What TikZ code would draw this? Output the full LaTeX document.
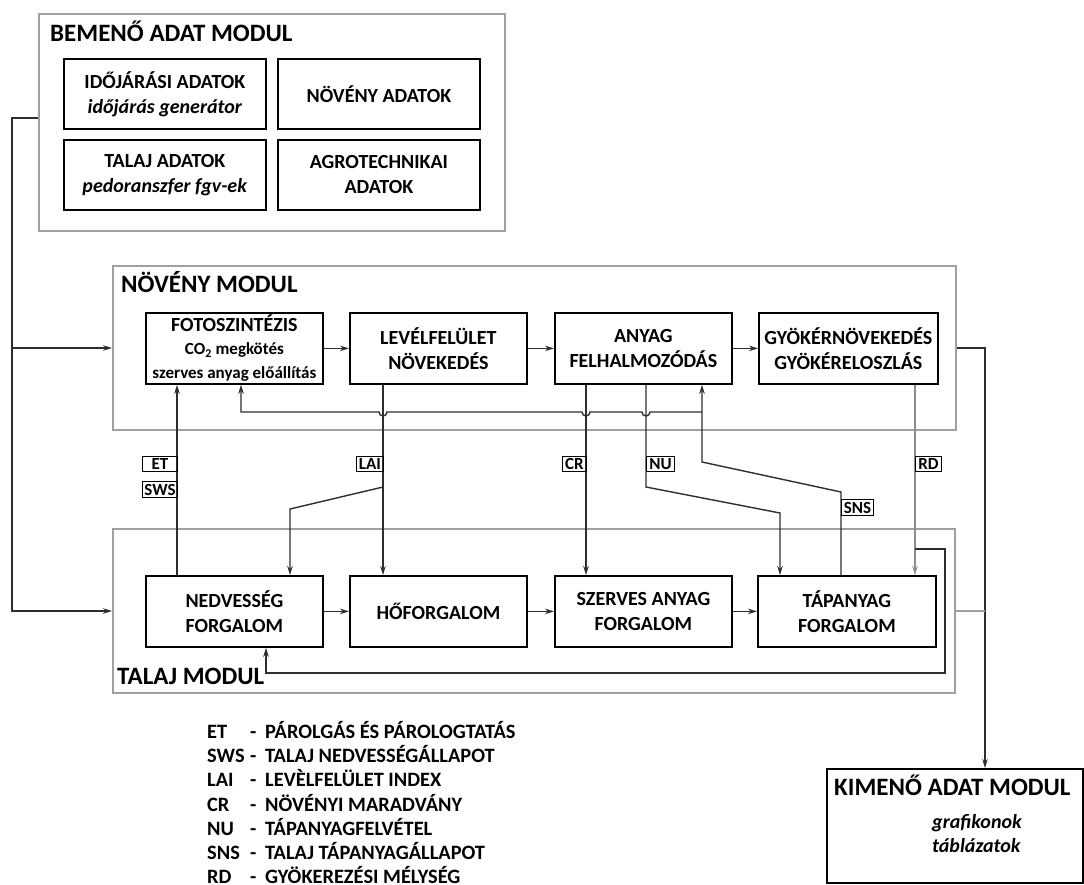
\documentclass[tikz,border=0pt]{standalone}
\usepackage{fontspec}
\setmainfont{Carlito}
\usetikzlibrary{arrows.meta,calc}
\definecolor{modgray}{HTML}{A0A0A0}
\definecolor{lnk}{HTML}{2E2E2E}
\definecolor{rdgray}{HTML}{8C8C8C}
\newcommand{\fT}{\fontsize{25pt}{30pt}\selectfont\bfseries}
\newcommand{\fA}{\fontsize{20pt}{25pt}\selectfont\bfseries}
\newcommand{\fG}{\fontsize{20.4pt}{25pt}\selectfont\bfseries}
\newcommand{\fB}{\fontsize{17pt}{19.5pt}\selectfont\bfseries}
\newcommand{\fL}{\fontsize{17pt}{18pt}\selectfont\bfseries}
\begin{document}
\begin{tikzpicture}[x=1pt,y=-1pt,
  modbox/.style={draw=modgray, line width=2pt, anchor=north west, inner sep=0pt},
  blk/.style={draw=black, line width=1.8pt, anchor=north west, align=center, inner sep=0pt, font=\fA},
  ttl/.style={anchor=base west, inner sep=0pt, font=\fT},
  lbl/.style={draw=black, line width=1pt, anchor=north west, inner sep=0pt, font=\fL, minimum height=15},
  leg/.style={anchor=base west, inner sep=0pt, font=\fG},
  conn/.style={draw=lnk, line width=1.4pt},
  arr/.style={conn, -{Stealth[length=9pt,width=5.5pt]}},
  garr/.style={draw=rdgray, line width=1.4pt, -{Stealth[length=9pt,width=5.5pt]}},
  gconn/.style={draw=modgray, line width=1.4pt}]
\useasboundingbox (0,0) rectangle (1084,884);

% ---------- input module
\node[modbox, minimum width=466, minimum height=217] (inmod) at (38,13) {};
\node[ttl] (intitle) at (50,41) {BEMENŐ ADAT MODUL};
\node[blk, minimum width=202, minimum height=70] (idoj) at (63,58) {IDŐJÁRÁSI ADATOK\\\textit{időjárás generátor}};
\node[blk, minimum width=202, minimum height=70] (talad) at (63,139) {TALAJ ADATOK\\\textit{pedoranszfer fgv-ek}};
\node[blk, minimum width=202, minimum height=70] (novad) at (277,58) {NÖVÉNY ADATOK};
\node[blk, minimum width=202, minimum height=70] (agro) at (277,139) {AGROTECHNIKAI\\ADATOK};

% ---------- plant module
\node[modbox, minimum width=843, minimum height=164] (plantmod) at (112,265) {};
\node[ttl] (planttitle) at (121,292) {NÖVÉNY MODUL};
\node[blk, minimum width=177, minimum height=71] (foto) at (145,312) {FOTOSZINTÉZIS\\[-2pt]{\fB CO\textsubscript{2} megkötés}\\[-1pt]{\fB szerves anyag előállítás}};
\node[blk, minimum width=177, minimum height=71] (level) at (349,312) {LEVÉLFELÜLET\\NÖVEKEDÉS};
\node[blk, minimum width=177, minimum height=71] (anyag) at (554,312) {ANYAG\\FELHALMOZÓDÁS};
\node[blk, minimum width=179, minimum height=71] (gyoker) at (758,312) {GYÖKÉRNÖVEKEDÉS\\GYÖKÉRELOSZLÁS};

% ---------- soil module
\node[modbox, minimum width=842, minimum height=164] (soilmod) at (112,528) {};
\node[ttl] (soiltitle) at (117,684) {TALAJ MODUL};
\node[blk, minimum width=177, minimum height=71] (nedv) at (145,575) {NEDVESSÉG\\FORGALOM};
\node[blk, minimum width=177, minimum height=71] (ho) at (349,575) {HŐFORGALOM};
\node[blk, minimum width=177, minimum height=71] (szerv) at (554,575) {SZERVES ANYAG\\FORGALOM};
\node[blk, minimum width=178, minimum height=71] (tap) at (757,575) {TÁPANYAG\\FORGALOM};

% ---------- output module
\node[draw=black, line width=1.8pt, anchor=north west, inner sep=0pt, minimum width=256, minimum height=114] (outmod) at (826,768) {};
\node[ttl] (outtitle) at (834,795) {KIMENŐ ADAT MODUL};
\node[leg, font=\fA\itshape] (out1) at (932,828) {grafikonok};
\node[leg, font=\fA\itshape] (out2) at (932,852) {táblázatok};

% ---------- coordinates
\coordinate (bus) at (12,118);
\coordinate (outx) at (985,0);
\coordinate (xET) at (177,0);
\coordinate (xLAI) at (383,0);
\coordinate (xCR) at (586,0);
\coordinate (xRD) at (915,0);
\coordinate (laiB) at (383,487);
\coordinate (laiC) at (290,509);
\coordinate (nuA) at (646,487);
\coordinate (nuB) at (780,513);
\coordinate (snsA) at (841,492);
\coordinate (snsB) at (702,462);
\coordinate (fbJ) at (702,412);
\coordinate (fbL) at (241,412);
\coordinate (rdJ) at (915,549);
\coordinate (rdR) at (945,673);
\coordinate (fbX) at (266,0);

% ---------- connectors
\draw[arr] (inmod.west |- bus) -- (bus) |- (soilmod.west);
\draw[arr] (bus |- plantmod.west) -- (plantmod.west);
\draw[arr] (plantmod.east) -| (outx |- outmod.north);
\draw[gconn] (soilmod.east) -- (outx |- soilmod.east);

\draw[arr] (foto.east) -- (level.west);
\draw[arr] (level.east) -- (anyag.west);
\draw[arr] (anyag.east) -- (gyoker.west);
\draw[arr] (nedv.east) -- (ho.west);
\draw[arr] (ho.east) -- (szerv.west);
\draw[arr] (szerv.east) -- (tap.west);

\draw[arr] (nedv.north -| xET) -- (foto.south -| xET);
\draw[arr] (level.south -| xLAI) -- (ho.north -| xLAI);
\draw[arr] (laiB) -- (laiC) -- (laiC |- nedv.north);
\draw[arr] (anyag.south -| xCR) -- (szerv.north -| xCR);
\draw[arr] (anyag.south -| nuA) -- (nuA) -- (nuB) -- (nuB |- tap.north);
\draw[arr] (tap.north -| snsA) -- (snsA) -- (snsB) -- (snsB |- anyag.south);
\draw[arr] (fbJ) -- ($(nuA |- fbJ)+(4,0)$) arc (0:180:4)
  -- ($(xCR |- fbJ)+(4,0)$) arc (0:180:4)
  -- ($(xLAI |- fbJ)+(4,0)$) arc (0:180:4)
  -- (fbL) -- (fbL |- foto.south);
\draw[garr] (gyoker.south -| xRD) -- (tap.north -| xRD);
\draw[arr] (rdJ) -| (rdR) -| (nedv.south -| fbX);

% ---------- labels
\node[lbl, minimum width=35] (lET) at (142,456) {ET};
\node[lbl, minimum width=35, minimum height=16] (lSWS) at (142,481) {SWS};
\node[lbl, minimum width=27] (lLAI) at (356,456) {LAI};
\node[lbl, minimum width=24] (lCR) at (562,456) {CR};
\node[lbl, minimum width=28] (lNU) at (646,456) {NU};
\node[lbl, minimum width=32, minimum height=16] (lSNS) at (841,499) {SNS};
\node[lbl, minimum width=26] (lRD) at (915,456) {RD};

% ---------- legend
\foreach \i/\a/\t in {0/ET/PÁROLGÁS ÉS PÁROLOGTATÁS,
                      1/SWS/TALAJ NEDVESSÉGÁLLAPOT,
                      2/LAI/LEVÈLFELÜLET INDEX,
                      3/CR/NÖVÉNYI MARADVÁNY,
                      4/NU/TÁPANYAGFELVÉTEL,
                      5/SNS/TALAJ TÁPANYAGÁLLAPOT,
                      6/RD/GYÖKEREZÉSI MÉLYSÉG} {
  \node[leg] (la\i) at (207,738.5+24.2*\i) {\a};
  \node[leg] (ld\i) at (250,738.5+24.2*\i) {-};
  \node[leg] (lt\i) at (265,738.5+24.2*\i) {\t};
}
\end{tikzpicture}
\end{document}
